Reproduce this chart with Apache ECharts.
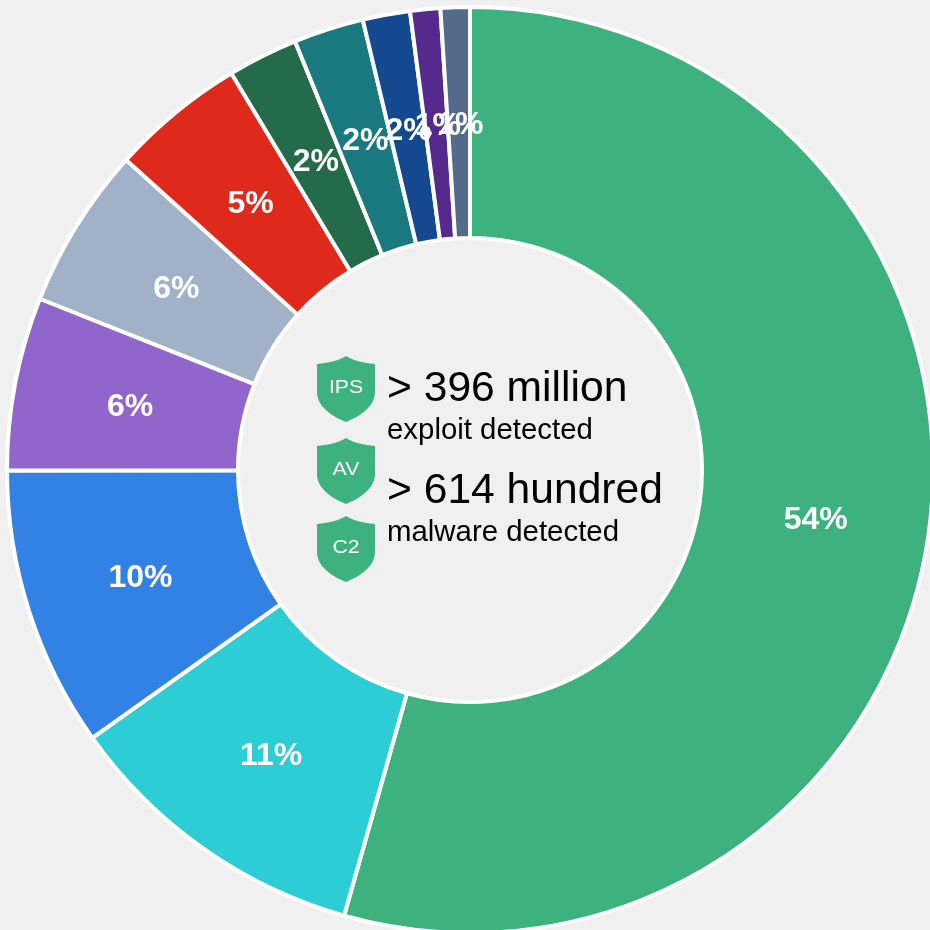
<!DOCTYPE html>
<html>
<head>
<meta charset="utf-8">
<style>
  html, body {margin: 0; padding: 0; background: #f0f0f0;}
  #chart {width: 930px; height: 930px;}
</style>
<script src="https://cdn.jsdelivr.net/npm/echarts@6/dist/echarts.min.js"></script>
</head>
<body>
<div id="chart"></div>
<script>
const sliceNames = ["s1", "s2", "s3", "s4", "s5", "s6", "s7", "s8", "s9", "s10", "s11"];
const sliceValues = [54.38, 10.8, 9.8, 6.05, 5.65, 4.7, 2.45, 2.45, 1.65, 1.05, 1.02];
const sliceColors = ["#3db27f", "#2ccdd5", "#3182e4", "#9166cc", "#a1b1c8", "#df2a1b", "#236b4a", "#1a797f", "#14498f", "#562a8c", "#536a8a"];
const shieldNames = ["IPS", "AV", "C2"];
const shieldTops = [356, 438, 516];
const statLines = [
  {big: "> 396 million", small: "exploit detected", bigY: 389, smallY: 431},
  {big: "> 614 hundred", small: "malware detected", bigY: 491, smallY: 533},
];

const FONT = "'Liberation Sans', Arial, sans-serif";
const CENTER = [470, 470];

// shield icon, 58 wide and 66 high
echarts.graphic.registerShape("shield", echarts.graphic.extendShape({
  buildPath: function(ctx) {
    ctx.moveTo(29, 0);
    ctx.bezierCurveTo(37, 5, 47, 7, 58, 8);
    ctx.lineTo(58, 36);
    ctx.bezierCurveTo(58, 50, 44, 60, 29, 66);
    ctx.bezierCurveTo(14, 60, 0, 50, 0, 36);
    ctx.lineTo(0, 8);
    ctx.bezierCurveTo(11, 7, 21, 5, 29, 0);
    ctx.closePath();
  },
}));

const graphics = [];
shieldNames.forEach((name, i) => {
  graphics.push({
    type: "shield",
    x: 317,
    y: shieldTops[i],
    style: {fill: "#3db27f"},
  });
  graphics.push({
    type: "text",
    x: 346,
    y: shieldTops[i] + 32,
    scaleX: 1.18,
    style: {text: name, fill: "#fff", font: "18px " + FONT, textAlign: "center", textVerticalAlign: "middle"},
  });
});
statLines.forEach(line => {
  graphics.push({
    type: "text",
    x: 387,
    y: line.bigY,
    style: {text: line.big, fill: "#000", font: "42.6px " + FONT, textAlign: "left", textVerticalAlign: "middle"},
  });
  graphics.push({
    type: "text",
    x: 387,
    y: line.smallY,
    style: {text: line.small, fill: "#000", font: "29.4px " + FONT, textAlign: "left", textVerticalAlign: "middle"},
  });
});

const myChart = echarts.init(document.getElementById("chart"));

myChart.setOption({
  backgroundColor: "#f0f0f0",
  animation: false,
  graphic: graphics,
  series: [{
    type: "pie",
    center: CENTER,
    radius: [232, 463],
    startAngle: 90,
    clockwise: true,
    avoidLabelOverlap: false,
    data: sliceNames.map((name, i) => ({
      name: name,
      value: sliceValues[i],
      itemStyle: {color: sliceColors[i]},
    })),
    itemStyle: {borderColor: "#fff", borderWidth: 4},
    label: {
      position: "inside",
      color: "#fff",
      fontFamily: FONT,
      fontWeight: "bold",
      fontSize: 32,
      textBorderWidth: 0,
      formatter: function(params) {
        return Math.round(params.percent) + "%";
      },
    },
    // labels sit a little closer to the middle than the ring's midline
    labelLayout: function(params) {
      const rect = params.labelRect;
      const vx = CENTER[0] - (rect.x + rect.width / 2);
      const vy = CENTER[1] - (rect.y + rect.height / 2);
      const len = Math.sqrt(vx * vx + vy * vy);
      return {
        hideOverlap: false,
        dx: 1.5 + 3 * vx / len,
        dy: 2.5 + 3 * vy / len,
      };
    },
    labelLine: {show: false},
  }],
});
</script>
</body>
</html>
